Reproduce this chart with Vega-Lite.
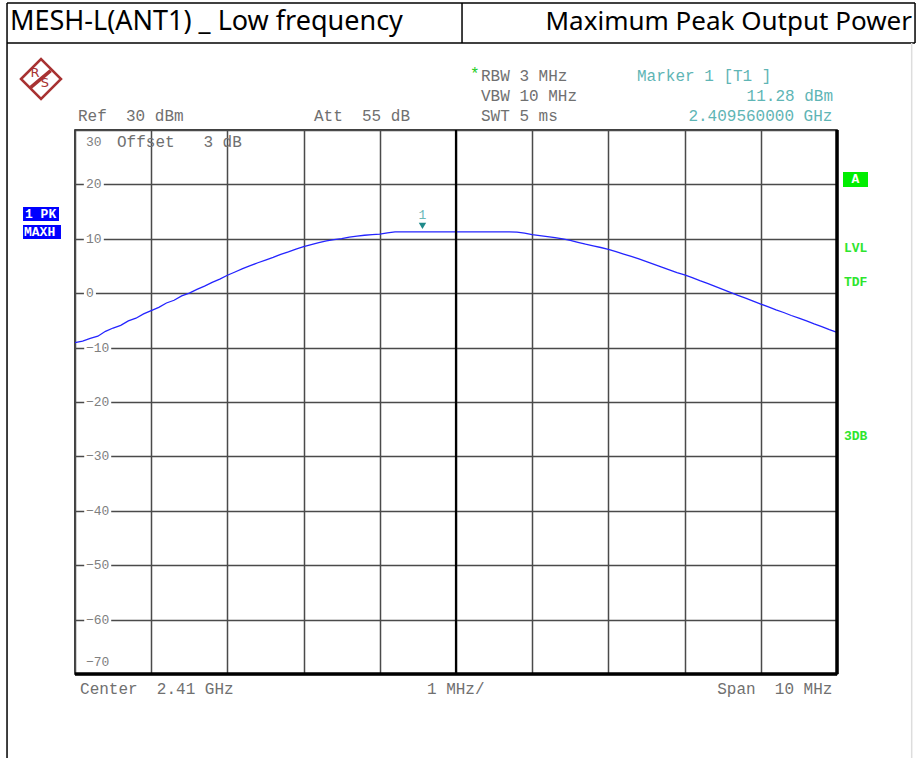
{
  "$schema": "https://vega.github.io/schema/vega-lite/v6.json",
  "width": 762,
  "height": 544,
  "autosize": {"type": "none"},
  "padding": {"left": 75, "top": 130, "right": 80, "bottom": 84},
  "background": "white",
  "data": {"values": [{"note": "annotation"}]},
  "config": {
    "view": {"stroke": "#000000", "strokeWidth": 1.5},
    "text": {"font": "Liberation Mono", "fontSize": 16, "fill": "#707070", "align": "left", "baseline": "middle"}
  },
  "datasets": {
    "trace": [
      {"freq": 2405.0, "level": -9.1}, {"freq": 2405.1, "level": -8.8}, {"freq": 2405.2, "level": -8.3}, {"freq": 2405.3, "level": -7.9}, {"freq": 2405.4, "level": -7.0},
      {"freq": 2405.5, "level": -6.4}, {"freq": 2405.6, "level": -5.9}, {"freq": 2405.7, "level": -5.1}, {"freq": 2405.8, "level": -4.6}, {"freq": 2405.9, "level": -3.8},
      {"freq": 2406.0, "level": -3.2}, {"freq": 2406.1, "level": -2.6}, {"freq": 2406.2, "level": -1.8}, {"freq": 2406.3, "level": -1.3}, {"freq": 2406.4, "level": -0.5},
      {"freq": 2406.5, "level": 0.0}, {"freq": 2406.6, "level": 0.7}, {"freq": 2406.7, "level": 1.3}, {"freq": 2406.8, "level": 2.0}, {"freq": 2406.9, "level": 2.6},
      {"freq": 2407.0, "level": 3.3}, {"freq": 2407.1, "level": 3.9}, {"freq": 2407.2, "level": 4.5}, {"freq": 2407.3, "level": 5.05}, {"freq": 2407.4, "level": 5.6},
      {"freq": 2407.5, "level": 6.1}, {"freq": 2407.6, "level": 6.6}, {"freq": 2407.7, "level": 7.15}, {"freq": 2407.8, "level": 7.6}, {"freq": 2407.9, "level": 8.1},
      {"freq": 2408.0, "level": 8.55}, {"freq": 2408.1, "level": 8.95}, {"freq": 2408.2, "level": 9.3}, {"freq": 2408.3, "level": 9.6}, {"freq": 2408.4, "level": 9.85},
      {"freq": 2408.5, "level": 10.05}, {"freq": 2408.6, "level": 10.3}, {"freq": 2408.7, "level": 10.5}, {"freq": 2408.8, "level": 10.65}, {"freq": 2408.9, "level": 10.75},
      {"freq": 2409.0, "level": 10.85}, {"freq": 2409.1, "level": 11.1}, {"freq": 2409.2, "level": 11.28}, {"freq": 2409.3, "level": 11.28}, {"freq": 2409.4, "level": 11.28},
      {"freq": 2409.5, "level": 11.28}, {"freq": 2409.6, "level": 11.28}, {"freq": 2409.7, "level": 11.28}, {"freq": 2409.8, "level": 11.28}, {"freq": 2409.9, "level": 11.28},
      {"freq": 2410.0, "level": 11.28}, {"freq": 2410.1, "level": 11.28}, {"freq": 2410.2, "level": 11.28}, {"freq": 2410.3, "level": 11.28}, {"freq": 2410.4, "level": 11.28},
      {"freq": 2410.5, "level": 11.28}, {"freq": 2410.6, "level": 11.28}, {"freq": 2410.7, "level": 11.28}, {"freq": 2410.8, "level": 11.22}, {"freq": 2410.9, "level": 11.05},
      {"freq": 2411.0, "level": 10.75}, {"freq": 2411.1, "level": 10.6}, {"freq": 2411.2, "level": 10.4}, {"freq": 2411.3, "level": 10.2}, {"freq": 2411.4, "level": 10.0},
      {"freq": 2411.5, "level": 9.7}, {"freq": 2411.6, "level": 9.35}, {"freq": 2411.7, "level": 9.0}, {"freq": 2411.8, "level": 8.7}, {"freq": 2411.9, "level": 8.4},
      {"freq": 2412.0, "level": 8.07}, {"freq": 2412.1, "level": 7.65}, {"freq": 2412.2, "level": 7.2}, {"freq": 2412.3, "level": 6.75}, {"freq": 2412.4, "level": 6.3},
      {"freq": 2412.5, "level": 5.8}, {"freq": 2412.6, "level": 5.3}, {"freq": 2412.7, "level": 4.8}, {"freq": 2412.8, "level": 4.3}, {"freq": 2412.9, "level": 3.8},
      {"freq": 2413.0, "level": 3.35}, {"freq": 2413.1, "level": 2.85}, {"freq": 2413.2, "level": 2.3}, {"freq": 2413.3, "level": 1.8}, {"freq": 2413.4, "level": 1.25},
      {"freq": 2413.5, "level": 0.7}, {"freq": 2413.6, "level": 0.15}, {"freq": 2413.7, "level": -0.4}, {"freq": 2413.8, "level": -0.9}, {"freq": 2413.9, "level": -1.45},
      {"freq": 2414.0, "level": -2.0}, {"freq": 2414.1, "level": -2.5}, {"freq": 2414.2, "level": -3.05}, {"freq": 2414.3, "level": -3.55}, {"freq": 2414.4, "level": -4.1},
      {"freq": 2414.5, "level": -4.6}, {"freq": 2414.6, "level": -5.1}, {"freq": 2414.7, "level": -5.65}, {"freq": 2414.8, "level": -6.15}, {"freq": 2414.9, "level": -6.7},
      {"freq": 2415.0, "level": -7.2}
    ],
    "marker": [{"freq": 2409.56, "level": 11.28, "label": "1"}],
    "levels": [{"level": 30}, {"level": 20}, {"level": 10}, {"level": 0}, {"level": -10}, {"level": -20}, {"level": -30}, {"level": -40}, {"level": -50}, {"level": -60}, {"level": -70}]
  },
  "layer": [
    {
      "data": {"name": "trace"},
      "mark": {"type": "line", "color": "#2424ff", "strokeWidth": 1.3, "opacity": 0},
      "encoding": {
        "x": {
          "field": "freq", "type": "quantitative",
          "scale": {"domain": [2405, 2415], "nice": false, "zero": false},
          "axis": {"values": [2405, 2406, 2407, 2408, 2409, 2410, 2411, 2412, 2413, 2414, 2415], "grid": true, "gridColor": "#4a4a4a", "gridWidth": 1.5, "labels": false, "ticks": false, "domain": false, "title": null, "zindex": 0}
        },
        "y": {
          "field": "level", "type": "quantitative",
          "scale": {"domain": [-70, 30], "nice": false, "zero": false},
          "axis": {"values": [30, 20, 10, 0, -10, -20, -30, -40, -50, -60, -70], "grid": true, "gridColor": "#4a4a4a", "gridWidth": 1.5, "ticks": false, "domain": false, "title": null, "labels": false, "zindex": 0}
        }
      }
    },
    {
      "data": {"name": "levels"},
      "transform": [{"filter": "datum.level > 0 && datum.level < 30"}],
      "mark": {"type": "point", "filled": true, "fill": "#ffffff", "stroke": null, "opacity": 1, "shape": "M-1,-0.5L1,-0.5L1,0.5L-1,0.5Z", "size": 400},
      "encoding": {"x": {"datum": 2405.247}, "y": {"field": "level", "type": "quantitative"}}
    },
    {
      "data": {"name": "levels"},
      "transform": [{"filter": "datum.level == 0"}],
      "mark": {"type": "point", "filled": true, "fill": "#ffffff", "stroke": null, "opacity": 1, "shape": "M-1,-0.83L1,-0.83L1,0.83L-1,0.83Z", "size": 144},
      "encoding": {"x": {"datum": 2405.196}, "y": {"field": "level", "type": "quantitative"}}
    },
    {
      "data": {"name": "levels"},
      "transform": [{"filter": "datum.level < 0 && datum.level > -70"}],
      "mark": {"type": "point", "filled": true, "fill": "#ffffff", "stroke": null, "opacity": 1, "shape": "M-1,-0.37L1,-0.37L1,0.37L-1,0.37Z", "size": 729},
      "encoding": {"x": {"datum": 2405.298}, "y": {"field": "level", "type": "quantitative"}}
    },
    {
      "data": {"name": "levels"},
      "transform": [{"filter": "datum.level < 30 && datum.level > -70"}],
      "mark": {"type": "text", "fontSize": 13, "fill": "#808080"},
      "encoding": {"x": {"datum": 2405.144}, "y": {"field": "level", "type": "quantitative"}, "text": {"field": "level", "type": "quantitative"}}
    },
    {
      "data": {"name": "levels"},
      "transform": [{"filter": "datum.level == 30"}],
      "mark": {"type": "text", "fontSize": 13, "fill": "#808080", "yOffset": 12},
      "encoding": {"x": {"datum": 2405.144}, "y": {"field": "level", "type": "quantitative"}, "text": {"field": "level", "type": "quantitative"}}
    },
    {
      "data": {"name": "levels"},
      "transform": [{"filter": "datum.level == -70"}],
      "mark": {"type": "text", "fontSize": 13, "fill": "#808080", "yOffset": -12},
      "encoding": {"x": {"datum": 2405.144}, "y": {"field": "level", "type": "quantitative"}, "text": {"field": "level", "type": "quantitative"}}
    },
    {
      "data": {"name": "trace"},
      "mark": {"type": "line", "color": "#2424ff", "strokeWidth": 1.3},
      "encoding": {"x": {"field": "freq", "type": "quantitative"}, "y": {"field": "level", "type": "quantitative"}}
    },
    {"mark": {"type": "rule", "color": "#000000", "strokeWidth": 2.2}, "encoding": {"x": {"datum": 2410}}},
    {"mark": {"type": "rule", "color": "#000000", "strokeWidth": 3.5}, "encoding": {"x": {"datum": 2415}}},
    {"mark": {"type": "rule", "color": "#000000", "strokeWidth": 3.5}, "encoding": {"y": {"datum": -70}}},
    {
      "data": {"name": "marker"},
      "mark": {"type": "point", "shape": "triangle-down", "filled": true, "color": "#1f8a8a", "opacity": 1, "size": 55, "yOffset": -6},
      "encoding": {"x": {"field": "freq", "type": "quantitative"}, "y": {"field": "level", "type": "quantitative"}}
    },
    {
      "data": {"name": "marker"},
      "mark": {"type": "text", "fill": "#6ab9b9", "fontSize": 13, "align": "center", "yOffset": -17},
      "encoding": {"x": {"field": "freq", "type": "quantitative"}, "y": {"field": "level", "type": "quantitative"}, "text": {"field": "label"}}
    },
    {"mark": {"type": "rule", "color": "#000000", "strokeWidth": 1.5}, "encoding": {"x": {"datum": 2404.108}, "x2": {"datum": 2416.024}, "y": {"datum": 53.35}}},
    {"mark": {"type": "rule", "color": "#000000", "strokeWidth": 1.5}, "encoding": {"x": {"datum": 2404.108}, "x2": {"datum": 2416.024}, "y": {"datum": 45.99}}},
    {"mark": {"type": "rule", "color": "#000000", "strokeWidth": 1.5}, "encoding": {"x": {"datum": 2410.079}, "y": {"datum": 53.35}, "y2": {"datum": 45.99}}},
    {"mark": {"type": "rule", "color": "#000000", "strokeWidth": 1.5}, "encoding": {"x": {"datum": 2404.108}, "y": {"datum": 53.35}, "y2": {"datum": -85.5}}},
    {"mark": {"type": "rule", "color": "#000000", "strokeWidth": 1.5}, "encoding": {"x": {"datum": 2416.024}, "y": {"datum": 53.35}, "y2": {"datum": 45.99}}},
    {"mark": {"type": "rule", "color": "#dddddd", "strokeWidth": 1.5}, "encoding": {"x": {"datum": 2415.98}, "y": {"datum": 45.99}, "y2": {"datum": -85.5}}},
    {"mark": {"type": "text", "text": "MESH-L(ANT1) _ Low frequency", "font": "Noto Sans", "fontSize": 27, "fill": "#000000"}, "encoding": {"x": {"datum": 2404.147}, "y": {"datum": 49.85}}},
    {"mark": {"type": "text", "text": "Maximum Peak Output Power", "font": "Noto Sans", "fontSize": 26, "fill": "#000000", "align": "right"}, "encoding": {"x": {"datum": 2415.984}, "y": {"datum": 49.85}}},
    {"mark": {"type": "point", "shape": "diamond", "size": 1600, "filled": false, "color": "#a83232", "strokeWidth": 2.5, "opacity": 1}, "encoding": {"x": {"datum": 2404.554}, "y": {"datum": 39.375}}},
    {"mark": {"type": "rule", "color": "#a83232", "strokeWidth": 3.5}, "encoding": {"x": {"datum": 2404.681}, "x2": {"datum": 2404.419}, "y": {"datum": 40.9}, "y2": {"datum": 37.85}}},
    {"mark": {"type": "text", "text": "R", "font": "DejaVu Sans", "fontSize": 13, "fill": "#a83232", "align": "center"}, "encoding": {"x": {"datum": 2404.475}, "y": {"datum": 40.53}}},
    {"mark": {"type": "text", "text": "S", "font": "DejaVu Sans", "fontSize": 13, "fill": "#a83232", "align": "center"}, "encoding": {"x": {"datum": 2404.606}, "y": {"datum": 38.58}}},
    {"mark": {"type": "text", "text": "Ref\u00a0\u00a030 dBm"}, "encoding": {"x": {"datum": 2405.039}, "y": {"datum": 32.57}}},
    {"mark": {"type": "text", "text": "Att\u00a0\u00a055 dB"}, "encoding": {"x": {"datum": 2408.136}, "y": {"datum": 32.57}}},
    {"mark": {"type": "text", "text": "*", "fill": "#22cc22"}, "encoding": {"x": {"datum": 2410.184}, "y": {"datum": 40.29}}},
    {"mark": {"type": "text", "text": "RBW 3 MHz"}, "encoding": {"x": {"datum": 2410.328}, "y": {"datum": 39.93}}},
    {"mark": {"type": "text", "text": "VBW 10 MHz"}, "encoding": {"x": {"datum": 2410.328}, "y": {"datum": 36.25}}},
    {"mark": {"type": "text", "text": "SWT 5 ms"}, "encoding": {"x": {"datum": 2410.328}, "y": {"datum": 32.57}}},
    {"mark": {"type": "text", "text": "Marker 1 [T1 ]", "fill": "#5fb5b5"}, "encoding": {"x": {"datum": 2412.375}, "y": {"datum": 39.93}}},
    {"mark": {"type": "text", "text": "11.28 dBm", "fill": "#5fb5b5", "align": "right"}, "encoding": {"x": {"datum": 2414.948}, "y": {"datum": 36.25}}},
    {"mark": {"type": "text", "text": "2.409560000 GHz", "fill": "#5fb5b5", "align": "right"}, "encoding": {"x": {"datum": 2414.94}, "y": {"datum": 32.57}}},
    {"mark": {"type": "text", "text": "Offset\u00a0\u00a0\u00a03 dB"}, "encoding": {"x": {"datum": 2405.551}, "y": {"datum": 27.79}}},
    {"mark": {"type": "text", "text": "Center\u00a0\u00a02.41 GHz"}, "encoding": {"x": {"datum": 2405.066}, "y": {"datum": -72.76}}},
    {"mark": {"type": "text", "text": "1 MHz/"}, "encoding": {"x": {"datum": 2409.619}, "y": {"datum": -72.76}}},
    {"mark": {"type": "text", "text": "Span\u00a0\u00a010 MHz", "align": "right"}, "encoding": {"x": {"datum": 2414.94}, "y": {"datum": -72.76}}},
    {"mark": {"type": "rect", "color": "#0000ff"}, "encoding": {"x": {"datum": 2404.318}, "x2": {"datum": 2404.79}, "y": {"datum": 15.85}, "y2": {"datum": 13.27}}},
    {"mark": {"type": "rect", "color": "#0000ff"}, "encoding": {"x": {"datum": 2404.318}, "x2": {"datum": 2404.816}, "y": {"datum": 12.54}, "y2": {"datum": 9.96}}},
    {"mark": {"type": "text", "text": "1 PK", "fill": "#ffffff", "fontSize": 13, "fontWeight": "bold"}, "encoding": {"x": {"datum": 2404.344}, "y": {"datum": 14.56}}},
    {"mark": {"type": "text", "text": "MAXH", "fill": "#ffffff", "fontSize": 13, "fontWeight": "bold"}, "encoding": {"x": {"datum": 2404.331}, "y": {"datum": 11.25}}},
    {"mark": {"type": "rect", "color": "#00ee00"}, "encoding": {"x": {"datum": 2415.079}, "x2": {"datum": 2415.407}, "y": {"datum": 22.28}, "y2": {"datum": 19.52}}},
    {"mark": {"type": "text", "text": "A", "fill": "#ffffff", "fontSize": 13, "fontWeight": "bold", "align": "center"}, "encoding": {"x": {"datum": 2415.243}, "y": {"datum": 20.95}}},
    {"mark": {"type": "text", "text": "LVL", "fill": "#2ee52e", "fontSize": 13, "fontWeight": "bold"}, "encoding": {"x": {"datum": 2415.092}, "y": {"datum": 8.31}}},
    {"mark": {"type": "text", "text": "TDF", "fill": "#2ee52e", "fontSize": 13, "fontWeight": "bold"}, "encoding": {"x": {"datum": 2415.092}, "y": {"datum": 2.06}}},
    {"mark": {"type": "text", "text": "3DB", "fill": "#2ee52e", "fontSize": 13, "fontWeight": "bold"}, "encoding": {"x": {"datum": 2415.092}, "y": {"datum": -26.25}}}
  ]
}
